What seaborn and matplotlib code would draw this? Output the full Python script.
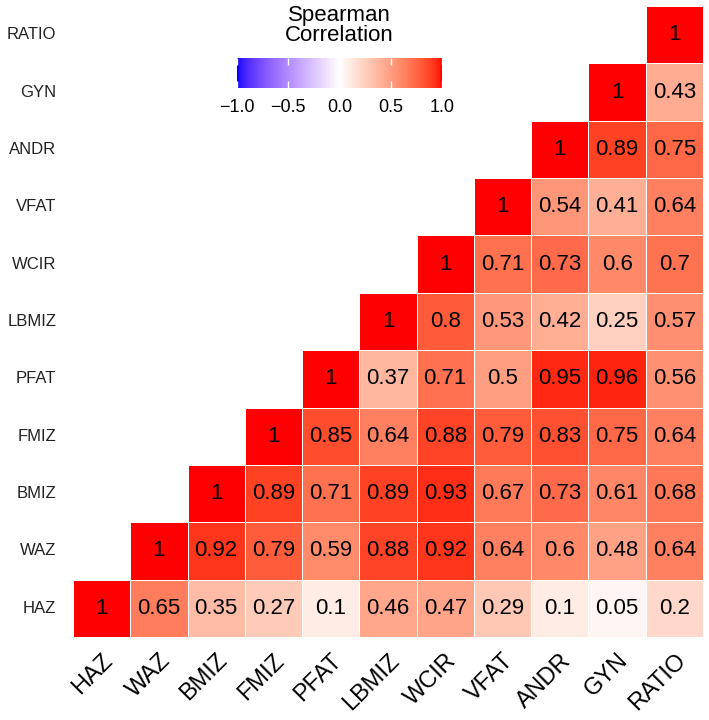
import numpy as np
import pandas as pd
import matplotlib
matplotlib.use('Agg')
import matplotlib.pyplot as plt
import seaborn as sns
from matplotlib.colors import ListedColormap

# Variables (bottom to top on y, left to right on x)
variables = ['HAZ', 'WAZ', 'BMIZ', 'FMIZ', 'PFAT', 'LBMIZ', 'WCIR', 'VFAT', 'ANDR', 'GYN', 'RATIO']

# Upper triangle of the Spearman matrix, one list per row (from the diagonal onwards)
haz = [1, 0.65, 0.35, 0.27, 0.1, 0.46, 0.47, 0.29, 0.1, 0.05, 0.2]
waz = [1, 0.92, 0.79, 0.59, 0.88, 0.92, 0.64, 0.6, 0.48, 0.64]
bmiz = [1, 0.89, 0.71, 0.89, 0.93, 0.67, 0.73, 0.61, 0.68]
fmiz = [1, 0.85, 0.64, 0.88, 0.79, 0.83, 0.75, 0.64]
pfat = [1, 0.37, 0.71, 0.5, 0.95, 0.96, 0.56]
lbmiz = [1, 0.8, 0.53, 0.42, 0.25, 0.57]
wcir = [1, 0.71, 0.73, 0.6, 0.7]
vfat = [1, 0.54, 0.41, 0.64]
andr = [1, 0.89, 0.75]
gyn = [1, 0.43]
ratio = [1]
rows = [haz, waz, bmiz, fmiz, pfat, lbmiz, wcir, vfat, andr, gyn, ratio]

n = len(variables)
mat = np.full((n, n), np.nan)
for i, r in enumerate(rows):
    mat[i, i:] = r

df = pd.DataFrame(mat, index=variables, columns=variables)
df = df.iloc[::-1]  # RATIO on top
mask = df.isna()
annot = df.map(lambda v: '' if np.isnan(v) else f'{v:g}')


# blue-white-red gradient interpolated in CIELAB (like ggplot's gradient2)
def srgb_to_lab(c):
    c = np.asarray(c, float)
    lin = np.where(c <= 0.04045, c / 12.92, ((c + 0.055) / 1.055) ** 2.4)
    M = np.array([[0.4124, 0.3576, 0.1805], [0.2126, 0.7152, 0.0722], [0.0193, 0.1192, 0.9505]])
    xyz = M @ lin / np.array([0.95047, 1.0, 1.08883])
    f = np.where(xyz > 0.008856, np.cbrt(xyz), 7.787 * xyz + 16 / 116)
    return np.array([116 * f[1] - 16, 500 * (f[0] - f[1]), 200 * (f[1] - f[2])])


def lab_to_srgb(lab):
    L, a, b = lab
    fy = (L + 16) / 116
    fx = fy + a / 500
    fz = fy - b / 200
    f = np.array([fx, fy, fz])
    xyz = np.where(f ** 3 > 0.008856, f ** 3, (f - 16 / 116) / 7.787) * np.array([0.95047, 1.0, 1.08883])
    Minv = np.array([[3.2406, -1.5372, -0.4986], [-0.9689, 1.8758, 0.0415], [0.0557, -0.2040, 1.0570]])
    lin = np.clip(Minv @ xyz, 0, 1)
    c = np.where(lin <= 0.0031308, 12.92 * lin, 1.055 * lin ** (1 / 2.4) - 0.055)
    return np.clip(c, 0, 1)


lab_b, lab_w, lab_r = srgb_to_lab([0, 0, 1]), srgb_to_lab([1, 1, 1]), srgb_to_lab([1, 0, 0])
cols = []
for t in np.linspace(-1, 1, 257):
    if t < 0:
        lab = lab_w + (lab_b - lab_w) * (-t)
    else:
        lab = lab_w + (lab_r - lab_w) * t
    cols.append(lab_to_srgb(lab))
cmap = ListedColormap(cols)

plt.rcParams['font.family'] = ['Liberation Sans', 'DejaVu Sans']

fig = plt.figure(figsize=(7.09, 7.20), dpi=100)
ax = fig.add_axes([73 / 709, 83 / 720, 630 / 709, 631 / 720])
cax = fig.add_axes([237 / 709, 1 - 88 / 720, 205 / 709, 30 / 720])

sns.heatmap(df, mask=mask, cmap=cmap, vmin=-1, vmax=1, annot=annot, fmt='',
            annot_kws={'fontsize': 16, 'color': 'black'},
            linewidths=0.7, linecolor='white', square=False,
            ax=ax, cbar_ax=cax, cbar_kws={'orientation': 'horizontal'})

ax.tick_params(axis='both', length=0)
ax.tick_params(axis='y', pad=12, labelsize=12, labelcolor='#222222')
ax.tick_params(axis='x', pad=9, labelsize=17)
plt.setp(ax.get_yticklabels(), rotation=0)
plt.setp(ax.get_xticklabels(), rotation=45, ha='right', va='top', rotation_mode='anchor')
ax.set_xlabel('')
ax.set_ylabel('')

cb = ax.collections[0].colorbar
cb.outline.set_visible(False)
cb.set_ticks([-1.0, -0.5, 0.0, 0.5, 1.0])
cb.set_ticklabels(['\u22121.0', '\u22120.5', '0.0', '0.5', '1.0'])
cax.tick_params(axis='x', direction='in', color='white', length=5, width=1,
                top=True, bottom=True, labelsize=13, pad=8)
cax.set_title('Spearman\nCorrelation', fontsize=16, pad=12, linespacing=0.95)

fig.savefig('out.png', dpi=100)
